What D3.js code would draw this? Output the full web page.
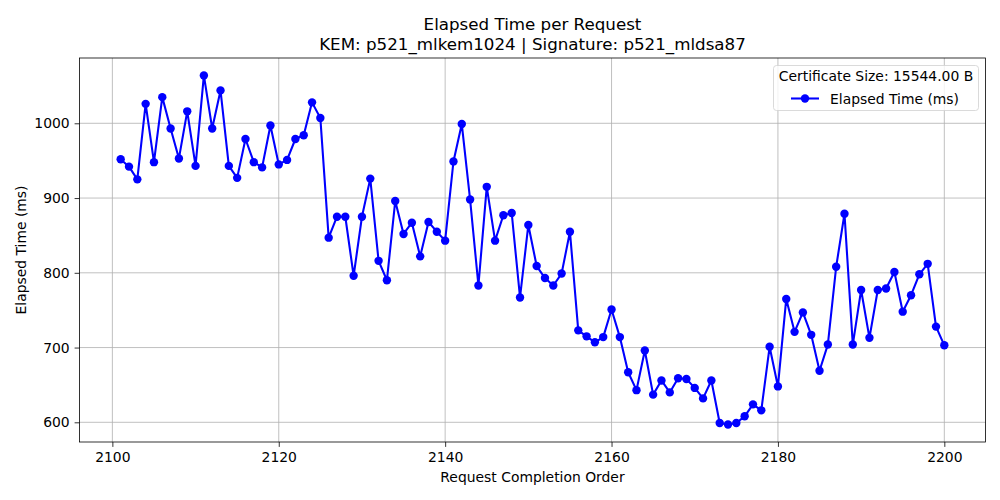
<!DOCTYPE html>
<html>
<head>
<meta charset="utf-8">
<script src="https://cdn.jsdelivr.net/npm/d3@7"></script>
<style>
  body { margin: 0; background: #fff; }
  text { font-family: "DejaVu Sans", sans-serif; fill: #000; }
</style>
</head>
<body>
<script>
//Data
const startOrder = 2101;
const elapsedMs = [
  952, 942, 925, 1026, 948, 1035, 993, 953, 1016, 943,
  1064, 993, 1044, 943, 927, 979, 948, 941, 997, 945,
  951, 979, 984, 1028, 1007, 847, 875, 875, 796, 875,
  926, 816, 790, 896, 852, 867, 822, 868, 855, 843,
  949, 999, 898, 783, 915, 843, 877, 880, 767, 864,
  809, 793, 783, 799, 855, 723, 715, 707, 714, 751,
  714, 667, 643, 696, 637, 656, 640, 659, 658, 646,
  632, 656, 599, 597, 599, 608, 624, 616, 701, 648,
  765, 721, 747, 717, 669, 704, 808, 879, 704, 777,
  713, 777, 779, 801, 748, 770, 798, 812, 728, 703
];
const orders = elapsedMs.map((d, i) => startOrder + i);
const xTicks = [2100, 2120, 2140, 2160, 2180, 2200];
const yTicks = [600, 700, 800, 900, 1000];
const titleLines = ["Elapsed Time per Request", "KEM: p521_mlkem1024 | Signature: p521_mldsa87"];
const legendTitle = "Certificate Size: 15544.00 B";
const seriesName = "Elapsed Time (ms)";

//Variables
const width = 1000;
const height = 500;
const margin = { top: 58, right: 14.5, bottom: 58, left: 79.5 };
const innerW = width - margin.left - margin.right;
const innerH = height - margin.top - margin.bottom;

const svg = d3.select("body")
  .append("svg")
  .attr("width", width)
  .attr("height", height);

//Scales (matplotlib-style 5% margins)
const xPad = (d3.max(orders) - d3.min(orders)) * 0.05;
const yPad = (d3.max(elapsedMs) - d3.min(elapsedMs)) * 0.05;
const x = d3.scaleLinear()
  .domain([d3.min(orders) - xPad, d3.max(orders) + xPad])
  .range([margin.left, margin.left + innerW]);
const y = d3.scaleLinear()
  .domain([d3.min(elapsedMs) - yPad, d3.max(elapsedMs) + yPad])
  .range([margin.top + innerH, margin.top]);

//Grid
svg.append("g")
  .selectAll("line.gx")
  .data(xTicks)
  .join("line")
  .attr("x1", d => x(d)).attr("x2", d => x(d))
  .attr("y1", margin.top).attr("y2", margin.top + innerH)
  .attr("stroke", "#b0b0b0").attr("stroke-width", 0.8);
svg.append("g")
  .selectAll("line.gy")
  .data(yTicks)
  .join("line")
  .attr("x1", margin.left).attr("x2", margin.left + innerW)
  .attr("y1", d => y(d)).attr("y2", d => y(d))
  .attr("stroke", "#b0b0b0").attr("stroke-width", 0.8);

//Axes
const xAxis = svg.append("g")
  .attr("transform", `translate(0,${margin.top + innerH})`)
  .call(d3.axisBottom(x).tickValues(xTicks).tickSize(4.9).tickPadding(4.9).tickFormat(d3.format("d")));
const yAxis = svg.append("g")
  .attr("transform", `translate(${margin.left},0)`)
  .call(d3.axisLeft(y).tickValues(yTicks).tickSize(4.9).tickPadding(4.9).tickFormat(d3.format("d")));
[xAxis, yAxis].forEach(a => {
  a.select(".domain").remove();
  a.selectAll(".tick line").attr("stroke", "#000").attr("stroke-width", 0.8);
  a.selectAll(".tick text").style("font-family", "DejaVu Sans").style("font-size", "13.9px").attr("fill", "#000");
});

//Frame
svg.append("rect")
  .attr("x", margin.left).attr("y", margin.top)
  .attr("width", innerW).attr("height", innerH)
  .attr("fill", "none").attr("stroke", "#000").attr("stroke-width", 0.8);

//Line + markers
const line = d3.line().x((d, i) => x(orders[i])).y(d => y(d));
svg.append("path")
  .datum(elapsedMs)
  .attr("d", line)
  .attr("fill", "none")
  .attr("stroke", "blue")
  .attr("stroke-width", 2.08)
  .attr("stroke-linejoin", "round");
svg.append("g")
  .selectAll("circle")
  .data(elapsedMs)
  .join("circle")
  .attr("cx", (d, i) => x(orders[i]))
  .attr("cy", d => y(d))
  .attr("r", 4.2)
  .attr("fill", "blue");

//Titles and labels
svg.append("text")
  .attr("x", margin.left + innerW / 2).attr("y", 29.5)
  .attr("text-anchor", "middle").style("font-size", "16.7px")
  .text(titleLines[0]);
svg.append("text")
  .attr("x", margin.left + innerW / 2).attr("y", 50)
  .attr("text-anchor", "middle").style("font-size", "16.7px")
  .text(titleLines[1]);
svg.append("text")
  .attr("x", margin.left + innerW / 2).attr("y", 482)
  .attr("text-anchor", "middle").style("font-size", "13.9px")
  .text("Request Completion Order");
svg.append("text")
  .attr("transform", `translate(26,${margin.top + innerH / 2}) rotate(-90)`)
  .attr("text-anchor", "middle").style("font-size", "13.9px")
  .text("Elapsed Time (ms)");

//Legend
const lg = svg.append("g");
lg.append("rect")
  .attr("x", 773.5).attr("y", 65.5).attr("width", 205).attr("height", 45)
  .attr("rx", 3)
  .attr("fill", "#fff").attr("fill-opacity", 0.8)
  .attr("stroke", "#d0d0d0").attr("stroke-width", 0.8);
lg.append("text")
  .attr("x", 876).attr("y", 81)
  .attr("text-anchor", "middle").style("font-size", "13.9px")
  .text(legendTitle);
lg.append("line")
  .attr("x1", 791).attr("x2", 819).attr("y1", 98.5).attr("y2", 98.5)
  .attr("stroke", "blue").attr("stroke-width", 2.08);
lg.append("circle")
  .attr("cx", 805).attr("cy", 98.5).attr("r", 4.2).attr("fill", "blue");
lg.append("text")
  .attr("x", 830).attr("y", 103.5)
  .style("font-size", "13.9px")
  .text(seriesName);
</script>
</body>
</html>
